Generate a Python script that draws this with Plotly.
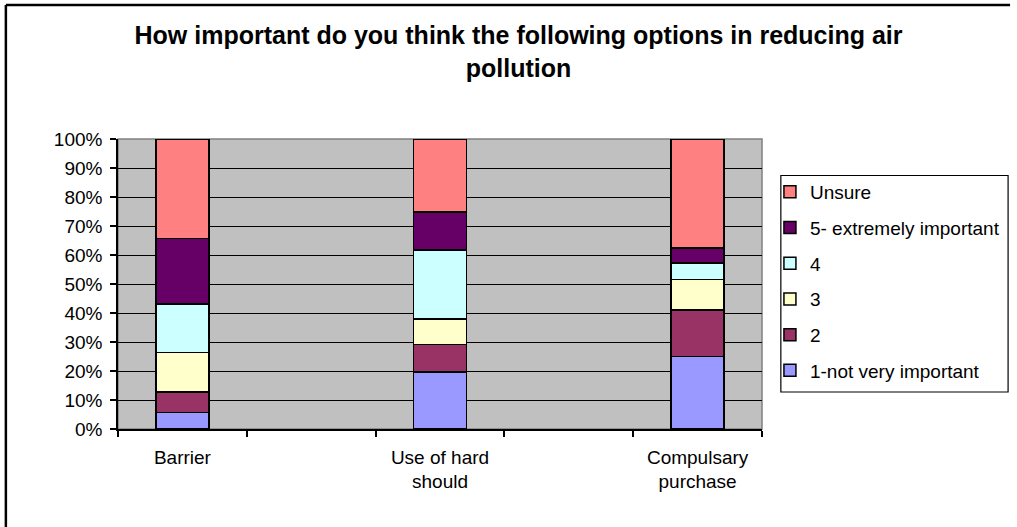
import plotly.graph_objects as go

# Survey: importance of options for reducing air pollution (share of responses, %)
categories = ["Barrier", "Use of hard<br>should", "Compulsary<br>purchase"]
axis_categories = ["Barrier", " ", "Use of hard<br>should", "  ", "Compulsary<br>purchase"]

series_names = ["1-not very important", "2", "3", "4", "5- extremely important", "Unsure"]
not_very_important = [5.7, 19.7, 25.0]
rating_2 = [7.1, 9.4, 16.1]
rating_3 = [13.6, 8.9, 10.4]
rating_4 = [16.7, 23.8, 5.7]
extremely_important = [22.6, 13.1, 5.2]
unsure = [34.3, 25.1, 37.6]

series_values = [not_very_important, rating_2, rating_3, rating_4, extremely_important, unsure]
series_colors = ["#9999FF", "#993366", "#FFFFCC", "#CCFFFF", "#660066", "#FF8080"]

y_ticks = list(range(0, 101, 10))
y_tick_labels = [f"{v}%" for v in y_ticks]

FONT = "Arial, Liberation Sans, sans-serif"

fig = go.Figure()
n = len(series_names)
for i, (name, vals, color) in enumerate(zip(series_names, series_values, series_colors)):
    fig.add_trace(go.Bar(
        x=categories, y=vals, name=name, legendgroup=name,
        legendrank=n - i,  # top of the stack listed first
        width=0.41,
        marker=dict(color=color, line=dict(color="#000000", width=1.5)),
    ))

# plot area geometry in pixels
L, R, T, B = 118, 767, 139, 429
W, H = R - L, B - T

def px_x(p):
    return (p - L) / W

def px_y(p):
    return (B - p) / H

frame = dict(color="#000000", width=2.5)

fig.update_layout(
    width=1017, height=527,
    margin=dict(l=L, r=1017 - R, t=T, b=527 - B),
    barmode="stack",
    paper_bgcolor="white",
    plot_bgcolor="#C0C0C0",
    font=dict(family=FONT, size=19, color="#000000"),
    title=dict(
        text="<b>How important do you think the following options in reducing air<br>pollution</b>",
        font=dict(family=FONT, size=25, color="#000000"),
        x=518.5 / 1017, xanchor="center", xref="container",
        y=1 - 44 / 527, yanchor="top", yref="container",
    ),
    xaxis=dict(
        type="category", categoryorder="array", categoryarray=axis_categories,
        range=[-0.5, 4.5], tickson="boundaries", ticks="outside", ticklen=6,
        tickcolor="#000000", tickwidth=1.5,
        showline=True, linecolor="#000000", linewidth=1.5,
        showgrid=False, tickfont=dict(size=19), ticklabelstandoff=10,
        fixedrange=True,
    ),
    yaxis=dict(
        range=[0, 100], tickvals=y_ticks, ticktext=y_tick_labels,
        ticks="outside", ticklen=6, tickcolor="#000000", tickwidth=1.5,
        showline=True, linecolor="#000000", linewidth=1.5,
        showgrid=True, gridcolor="#000000", gridwidth=1.2,
        zeroline=False, ticklabelstandoff=4, tickfont=dict(size=19),
        fixedrange=True,
    ),
    legend=dict(
        x=px_x(775), xanchor="left", y=px_y(173), yanchor="top",
        traceorder="grouped", tracegroupgap=8,
        bgcolor="rgba(0,0,0,0)", borderwidth=0,
        font=dict(family=FONT, size=19, color="#000000"),
    ),
    shapes=[
        # plot area border
        dict(type="rect", xref="paper", yref="paper", x0=0, x1=1, y0=0, y1=1,
             line=dict(color="#808080", width=1.5), layer="below"),
        # legend frame
        dict(type="rect", xref="paper", yref="paper",
             x0=px_x(786), x1=px_x(1015), y0=px_y(392), y1=px_y(175.5),
             line=dict(color="#000000", width=1.2)),
        # chart area frame: left and top edges
        dict(type="line", xref="paper", yref="paper",
             x0=px_x(5), x1=px_x(5), y0=px_y(5), y1=px_y(527), line=frame),
        dict(type="line", xref="paper", yref="paper",
             x0=px_x(5), x1=px_x(1017), y0=px_y(5), y1=px_y(5), line=frame),
    ],
)

fig.write_html("out.html", config={"displayModeBar": False})
